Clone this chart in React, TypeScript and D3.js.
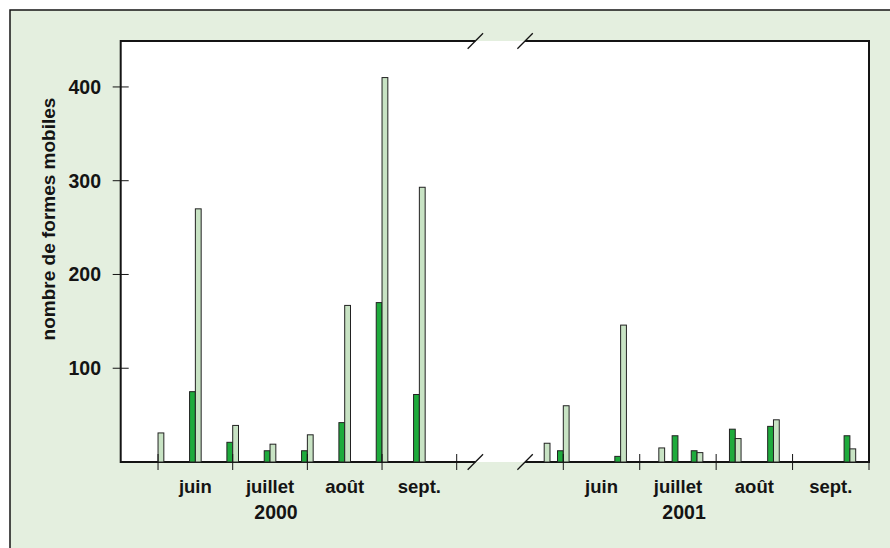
import * as d3 from 'd3';
import { useEffect, useRef } from 'react';

// month positions: 6 = 1 June, 6.5 = mid June, ...
const months = ['juin', 'juillet', 'août', 'sept.'];
const monthStarts = [6, 7, 8, 9, 10];
const yTicks = [100, 200, 300, 400];

const pos2000 = [6, 6.5, 7, 7.5, 8, 8.5, 9, 9.5];
const dark2000 = [0, 75, 21, 12, 12, 42, 170, 72];
const light2000 = [31, 270, 39, 19, 29, 167, 410, 293];

const pos2001 = [5.75, 6, 6.75, 7.25, 7.5, 7.75, 8.25, 8.75, 9.75];
const dark2001 = [0, 12, 6, 0, 28, 12, 35, 38, 28];
const light2001 = [20, 60, 146, 15, 0, 10, 25, 45, 14];

const years = ['2000', '2001'];

const BG = '#e4efdf';
const DARK = '#1eab3c';
const LIGHT = '#c8e3c4';
const INK = '#141414';
const FONT = '"Liberation Sans", Arial, Helvetica, sans-serif';

export default function App() {
  const svgRef = useRef<SVGSVGElement>(null);

  useEffect(() => {
    if (!svgRef.current) return;
    const width = 890;
    const height = 548;

    const left = 120.7;
    const top = 41;
    const right = 869;

    const y = d3.scaleLinear().domain([0, 449]).range([462, top]);
    const bottom = y(0);
    const xL = d3.scaleLinear().domain([5.5, 10]).range([left, 456.7]);
    const xR = d3.scaleLinear().domain([6, 10]).range([563.3, right]);
    const breakA = xL(10.25);
    const breakB = xR(5.5);
    const bw = 5.8;

    const svg = d3.select(svgRef.current)
      .attr('width', width)
      .attr('height', height);
    svg.selectAll('*').remove();

    // outer frame
    svg.append('rect')
      .attr('x', 10).attr('y', 10)
      .attr('width', 920).attr('height', 620)
      .attr('fill', BG)
      .attr('stroke', INK)
      .attr('stroke-width', 1.5);

    // plot area
    svg.append('rect')
      .attr('x', left).attr('y', top)
      .attr('width', right - left).attr('height', bottom - top)
      .attr('fill', '#fff');

    const border = svg.append('g')
      .attr('stroke', INK)
      .attr('stroke-width', 2)
      .attr('fill', 'none');
    border.append('line').attr('x1', left).attr('x2', left).attr('y1', top - 1).attr('y2', bottom + 1);
    border.append('line').attr('x1', right).attr('x2', right).attr('y1', top - 1).attr('y2', bottom + 1);
    [top, bottom].forEach((yy) => {
      border.append('line').attr('x1', left).attr('x2', breakA).attr('y1', yy).attr('y2', yy);
      border.append('line').attr('x1', breakB).attr('x2', right).attr('y1', yy).attr('y2', yy);
    });

    // axis break marks
    const slashes = svg.append('g').attr('stroke', INK).attr('stroke-width', 1.3);
    [top, bottom].forEach((yy) => {
      [breakA, breakB].forEach((xx) => {
        slashes.append('line')
          .attr('x1', xx - 7.7).attr('y1', yy + 7.7)
          .attr('x2', xx + 7.7).attr('y2', yy - 7.7);
      });
    });

    // bars
    const panels = [
      { x: xL, pos: pos2000, dark: dark2000, light: light2000 },
      { x: xR, pos: pos2001, dark: dark2001, light: light2001 },
    ];
    panels.forEach((p) => {
      const g = svg.append('g').attr('stroke', '#222').attr('stroke-width', 1);
      const rows = p.pos.map((d, i) => ({ pos: d, dark: p.dark[i], light: p.light[i] }));
      g.selectAll('rect.dark')
        .data(rows.filter((d) => d.dark > 0))
        .enter()
        .append('rect')
        .attr('class', 'dark')
        .attr('x', (d) => p.x(d.pos) - bw)
        .attr('y', (d) => y(d.dark))
        .attr('width', bw)
        .attr('height', (d) => bottom - y(d.dark))
        .attr('fill', DARK);
      g.selectAll('rect.light')
        .data(rows.filter((d) => d.light > 0))
        .enter()
        .append('rect')
        .attr('class', 'light')
        .attr('x', (d) => p.x(d.pos))
        .attr('y', (d) => y(d.light))
        .attr('width', bw)
        .attr('height', (d) => bottom - y(d.light))
        .attr('fill', LIGHT);
    });

    // x ticks
    const ticks = svg.append('g').attr('stroke', INK).attr('stroke-width', 1);
    panels.forEach((p) => {
      monthStarts.forEach((m) => {
        ticks.append('line')
          .attr('x1', p.x(m)).attr('x2', p.x(m))
          .attr('y1', bottom - 8).attr('y2', bottom + 8);
      });
    });

    // y ticks
    yTicks.forEach((t) => {
      ticks.append('line')
        .attr('x1', left - 8).attr('x2', left + 8)
        .attr('y1', y(t)).attr('y2', y(t));
    });

    const text = svg.append('g')
      .attr('font-family', FONT)
      .attr('font-weight', 'bold')
      .attr('fill', INK);

    text.selectAll('text.ytick')
      .data(yTicks)
      .enter()
      .append('text')
      .attr('class', 'ytick')
      .attr('x', 101)
      .attr('y', (d) => y(d) + 7)
      .attr('text-anchor', 'end')
      .attr('font-size', 19.5)
      .text((d) => d);

    panels.forEach((p, i) => {
      months.forEach((m, j) => {
        text.append('text')
          .attr('x', p.x(monthStarts[j] + 0.5))
          .attr('y', 492.5)
          .attr('text-anchor', 'middle')
          .attr('font-size', 18.5)
          .text(m);
      });
      text.append('text')
        .attr('x', p.x(7.58))
        .attr('y', 519)
        .attr('text-anchor', 'middle')
        .attr('font-size', 19.5)
        .text(years[i]);
    });

    text.append('text')
      .attr('transform', 'translate(54.5,219) rotate(-90)')
      .attr('text-anchor', 'middle')
      .attr('font-size', 19)
      .text('nombre de formes mobiles');
  }, []);

  return <svg ref={svgRef} style={{ position: 'absolute', left: 0, top: 0 }} />;
}
